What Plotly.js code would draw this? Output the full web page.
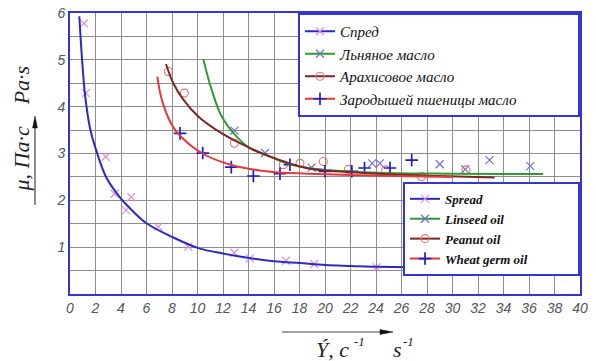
<!DOCTYPE html>
<html><head><meta charset="utf-8">
<script src="https://cdn.plot.ly/plotly-3.0.1.min.js"></script>
<style>html,body{margin:0;padding:0;background:#fff;}#chart{width:596px;height:361px;}</style>
</head><body><div id="chart"></div>
<script>
// ---- data ----
const xTickVals = [0,2,4,6,8,10,12,14,16,18,20,22,24,26,28,30,32,34,36,38,40];
const yTickVals = [1,2,3,4,5,6];
const namesRu = ['Спред','Льняное масло','Арахисовое масло','Зародышей пшеницы масло'];
const namesEn = ['Spread','Linseed oil','Peanut oil','Wheat germ oil'];

// fitted curves
const spreadFitX = [0.73,0.94,1.18,1.57,2.09,2.88,3.98,4.45,6.0,8.0,10.06,12.1,14.04,16.0,18.04,20.05,22.04,24.05,28.0,32.0];
const spreadFitY = [5.93,5.03,4.25,3.54,3.04,2.47,2.04,1.90,1.51,1.22,0.98,0.86,0.77,0.70,0.66,0.62,0.60,0.58,0.565,0.55];
const linseedFitX = [10.46,11.11,11.9,13.07,14.12,15.55,17.0,18.7,20.4,22.1,25.5,30.0,37.1];
const linseedFitY = [5.01,4.36,3.79,3.36,3.11,2.95,2.79,2.69,2.64,2.61,2.58,2.57,2.56];
const peanutFitX = [7.53,8.1,8.89,10.06,11.5,13.33,15.55,18.7,22.1,25.5,29.0,33.3];
const peanutFitY = [4.91,4.50,4.15,3.79,3.50,3.22,2.95,2.68,2.60,2.55,2.52,2.49];
const wheatFitX = [6.85,7.2,7.97,8.63,10.4,12.6,15.7,18.7,22.0,25.5,30.0];
const wheatFitY = [4.64,4.15,3.62,3.38,3.00,2.76,2.61,2.57,2.54,2.52,2.50];

// experimental points
const spreadPtX = [1.10,1.25,2.8,3.5,4.39,4.8,6.93,9.28,12.89,14.1,16.94,19.16,24.05,28.4];
const spreadPtY = [5.78,4.29,2.93,2.14,1.79,2.07,1.44,1.01,0.88,0.76,0.71,0.64,0.57,0.55];
const linseedPtX = [12.9,15.3,18.95,23.7,24.3,29.0,31.0,32.9,36.1];
const linseedPtY = [3.49,3.01,2.70,2.79,2.79,2.77,2.66,2.86,2.73];
const peanutPtX = [7.71,8.97,12.89,16.73,18.04,19.87,21.83,24.76,27.58,31.06];
const peanutPtY = [4.75,4.29,3.22,2.76,2.79,2.83,2.66,2.65,2.51,2.65];
const wheatPtX = [8.63,10.41,12.65,14.38,16.47,17.25,20.0,22.1,23.1,25.1,26.8];
const wheatPtY = [3.43,3.01,2.71,2.52,2.57,2.76,2.62,2.62,2.69,2.69,2.86];

// ---- styles ----
const lineColors = ['#2b2bc4','#2f9a32','#7d2626','#e23a3a'];
const markColors = ['#e48ad6','#6f6fd8','#e07272','#1c1cd0'];
const markSymbols = ['x-thin-open','x-thin-open','circle-open','cross-thin-open'];
const markSizes = [8,8,8,9];
const markWidths = [1.2,1.2,1.1,1.7];

const fits = [[spreadFitX,spreadFitY],[linseedFitX,linseedFitY],[peanutFitX,peanutFitY],[wheatFitX,wheatFitY]];
const pts = [[spreadPtX,spreadPtY],[linseedPtX,linseedPtY],[peanutPtX,peanutPtY],[wheatPtX,wheatPtY]];
const NB = '\u00A0';

const traces = [];
for (let i = 0; i < 4; i++) {
  traces.push({x: pts[i][0], y: pts[i][1], type:'scatter', mode:'markers', showlegend:false, hoverinfo:'skip',
    marker:{symbol:markSymbols[i], size:markSizes[i], color:markColors[i], line:{color:markColors[i], width:markWidths[i]}}});
}
for (let i = 0; i < 4; i++) {
  traces.push({x: fits[i][0], y: fits[i][1], type:'scatter', mode:'lines', showlegend:false, hoverinfo:'skip',
    line:{color:lineColors[i], width:2, shape:'spline', smoothing:1}});
}
function legendEntry(name, i, legendId) {
  return {x:[null], y:[null], type:'scatter', mode:'lines+markers', name:name, legend:legendId,
    line:{color:lineColors[i], width:2},
    marker:{symbol:markSymbols[i], size:markSizes[i], color:markColors[i], line:{color:markColors[i], width:markWidths[i]}}};
}
// legend boxes are widened with trailing non-breaking spaces on the longest entry
const padRu = NB.repeat(15), padEn = NB.repeat(14);
for (let i = 0; i < 4; i++) traces.push(legendEntry(namesRu[i] + (i === 3 ? padRu : ''), i, 'legend'));
for (let i = 0; i < 4; i++) traces.push(legendEntry(namesEn[i] + (i === 3 ? padEn : ''), i, 'legend2'));

const frame = '#3535d2';
const grid = '#8e8e8e';
const tickFont = {family:'Liberation Sans, Arial, sans-serif', size:14, color:'#555', style:'italic'};
const serif = '"Liberation Serif", "Times New Roman", serif';
const titleFont = {family:serif, size:22, color:'#222', style:'italic'};
const supFont = {family:serif, size:13, color:'#222', style:'italic'};

// paper-coordinate helpers for the decorative axis arrows (plot area 510 x 281 px)
const PW = 510, PH = 281;
function px(xp) { return (xp - 70) / PW; }
function py(yp) { return (294 - yp) / PH; }

const shapes = [
  {type:'line', xref:'paper', yref:'paper', x0:px(35), x1:px(35), y0:py(205), y1:py(124), line:{color:'#444', width:1.2}},
  {type:'path', xref:'paper', yref:'paper', fillcolor:'#111', line:{color:'#111', width:0.5},
   path:`M ${px(35)} ${py(116)} L ${px(32.6)} ${py(128)} L ${px(37.4)} ${py(128)} Z`},
  {type:'line', xref:'paper', yref:'paper', x0:px(282), x1:px(384), y0:py(332), y1:py(332), line:{color:'#444', width:1.2}},
  {type:'path', xref:'paper', yref:'paper', fillcolor:'#111', line:{color:'#111', width:0.5},
   path:`M ${px(393)} ${py(332)} L ${px(380)} ${py(329.6)} L ${px(380)} ${py(334.4)} Z`}
];

const layout = {
  width:596, height:361,
  margin:{l:70, r:16, t:13, b:67},
  paper_bgcolor:'#fff', plot_bgcolor:'#fff',
  showlegend:true,
  xaxis:{range:[0,40], tickvals:xTickVals, ticktext:xTickVals.map(String), showgrid:true, gridcolor:grid, gridwidth:1,
    zeroline:false, showline:true, mirror:true, linecolor:frame, linewidth:2, ticks:'', tickfont:tickFont, fixedrange:true},
  yaxis:{range:[0,6], tickvals:yTickVals, ticktext:yTickVals.map(String), showgrid:true, gridcolor:grid, gridwidth:1,
    minor:{dtick:0.5, showgrid:true, gridcolor:grid, gridwidth:1},
    zeroline:false, showline:true, mirror:true, linecolor:frame, linewidth:2, ticks:'', tickfont:tickFont, fixedrange:true},
  legend:{x:1, xanchor:'right', y:1, yanchor:'top', bgcolor:'#fff', bordercolor:frame, borderwidth:2,
    font:{family:serif, size:15, color:'#111', style:'italic'}},
  legend2:{x:1, xanchor:'right', y:0.399, yanchor:'top', bgcolor:'#fff', bordercolor:frame, borderwidth:2,
    font:{family:serif, size:13, color:'#111', style:'italic', weight:'bold'}},
  shapes:shapes,
  annotations:[
    {xref:'paper', yref:'paper', x:-0.096, y:0.589, textangle:-90, showarrow:false, xanchor:'center', yanchor:'middle',
     text:'μ, Па·с' + NB+NB+NB+NB + 'Pa·s', font:titleFont},
    {xref:'paper', yref:'paper', x:px(314), y:py(349), showarrow:false, xanchor:'left', yanchor:'middle',
     text:'Ý, c', font:titleFont},
    {xref:'paper', yref:'paper', x:px(352), y:py(341), showarrow:false, xanchor:'left', yanchor:'middle',
     text:'-1', font:supFont},
    {xref:'paper', yref:'paper', x:px(391), y:py(349), showarrow:false, xanchor:'left', yanchor:'middle',
     text:'s', font:titleFont},
    {xref:'paper', yref:'paper', x:px(401), y:py(341), showarrow:false, xanchor:'left', yanchor:'middle',
     text:'-1', font:supFont}
  ]
};

Plotly.newPlot('chart', traces, layout, {displayModeBar:false, staticPlot:true});
</script></body></html>
